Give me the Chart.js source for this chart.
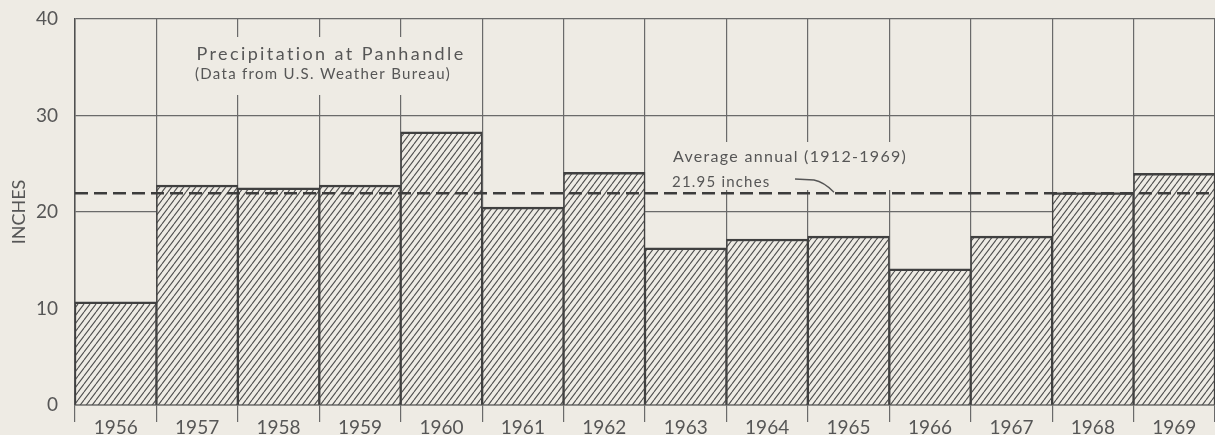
<!DOCTYPE html>
<html>
<head>
<meta charset="utf-8">
<title>Precipitation at Panhandle</title>
<script src="https://cdn.jsdelivr.net/npm/chart.js@4.4.0/dist/chart.umd.min.js"></script>
<style>
  html, body { margin: 0; padding: 0; background: #eeebe4; overflow: hidden; }
  #wrap { width: 1215px; height: 435px; }
</style>
</head>
<body>
<div id="wrap"><canvas id="precip-chart" width="1215" height="435"></canvas></div>
<script>
const years = ["1956", "1957", "1958", "1959", "1960", "1961", "1962",
               "1963", "1964", "1965", "1966", "1967", "1968", "1969"];
const precipInches = [10.7, 22.8, 22.5, 22.8, 28.3, 20.5, 24.1,
                      16.3, 17.2, 17.5, 14.1, 17.5, 22.0, 24.0];
const averageAnnual = 21.95;
const yTicks = [0, 10, 20, 30, 40];
const titleLines = ["Precipitation at Panhandle", "(Data from U.S. Weather Bureau)"];
const averageLines = ["Average annual (1912-1969)", "21.95 inches"];

const paper = "#eeebe4";
const ink = "#565656";
const gridInk = "#6a6a6a";
const fontFamily = "Lato, 'Open Sans', sans-serif";

const canvas = document.getElementById("precip-chart");
const ctx = canvas.getContext("2d");

// diagonal hatching used for the bars
function makeHatch() {
  const w = 6, h = 8;
  const tile = document.createElement("canvas");
  tile.width = w;
  tile.height = h;
  const g = tile.getContext("2d");
  g.fillStyle = paper;
  g.fillRect(0, 0, w, h);
  g.strokeStyle = "#505050";
  g.lineWidth = 1.1;
  g.beginPath();
  g.moveTo(0, h); g.lineTo(w, 0);
  g.moveTo(-w, h); g.lineTo(0, 0);
  g.moveTo(w, h); g.lineTo(2 * w, 0);
  g.stroke();
  return ctx.createPattern(tile, "repeat");
}

function drawText(c, text, x, y, size, spacing, align) {
  c.font = size + "px " + fontFamily;
  c.letterSpacing = spacing + "px";
  c.textAlign = align;
  c.textBaseline = "middle";
  c.fillText(text, x, y);
}

const overlayPlugin = {
  id: "overlay",
  afterDraw(chart) {
    const { ctx: c, chartArea, scales } = chart;
    const yAvg = scales.y.getPixelForValue(averageAnnual);
    c.save();

    // lettering sits on blank panels that break the grid lines
    c.fillStyle = paper;
    c.fillRect(182, 37, 290, 58);
    c.fillRect(660, 142, 255, 48);

    // average line
    c.strokeStyle = "#3c3c3c";
    c.lineWidth = 2.5;
    c.setLineDash([13, 6]);
    c.beginPath();
    c.moveTo(chartArea.left, yAvg);
    c.lineTo(chartArea.right, yAvg);
    c.stroke();
    c.setLineDash([]);

    // leader from the label down to the line
    c.lineWidth = 1.3;
    c.strokeStyle = ink;
    c.beginPath();
    c.moveTo(795, 179);
    c.lineTo(814, 180);
    c.quadraticCurveTo(824, 182, 834, yAvg - 1);
    c.stroke();

    c.fillStyle = ink;
    drawText(c, titleLines[0], 331, 54, 18, 2.4, "center");
    drawText(c, titleLines[1], 323, 74, 15, 1.3, "center");
    drawText(c, averageLines[0], 673, 157, 16, 1.3, "left");
    drawText(c, averageLines[1], 672, 182, 15, 1.2, "left");
    c.restore();
  }
};

new Chart(ctx, {
  type: "bar",
  data: {
    labels: years,
    datasets: [{
      data: precipInches,
      backgroundColor: makeHatch(),
      borderColor: "#404040",
      borderWidth: { top: 2.5, left: 1.5, right: 1.5, bottom: 0 },
      borderSkipped: "start",
      barPercentage: 1,
      categoryPercentage: 1
    }]
  },
  options: {
    responsive: false,
    animation: false,
    layout: { padding: { top: 19, right: 0, bottom: 0, left: 0 } },
    plugins: {
      legend: { display: false },
      tooltip: { enabled: false }
    },
    scales: {
      x: {
        z: 1,
        offset: true,
        afterFit: (scale) => { scale.height = 30; },
        grid: {
          offset: true,
          color: gridInk,
          lineWidth: 1.2,
          drawTicks: true,
          tickLength: 17,
          tickColor: gridInk
        },
        border: { display: true, color: "#505050", width: 1.5 },
        ticks: {
          color: ink,
          padding: -6,
          maxRotation: 0,
          font: { family: fontFamily, size: 19 }
        }
      },
      y: {
        z: 1,
        min: 0,
        max: 40,
        afterFit: (scale) => {
          scale.width = 75;
          scale.paddingTop = 0;
          scale.paddingBottom = 0;
        },
        afterBuildTicks: (scale) => { scale.ticks = yTicks.map(v => ({ value: v })); },
        grid: { color: gridInk, lineWidth: 1.2, drawTicks: false },
        border: { display: true, color: "#505050", width: 1.5 },
        ticks: {
          color: ink,
          padding: 17,
          font: { family: fontFamily, size: 19 }
        },
        title: {
          display: true,
          text: "INCHES",
          color: ink,
          padding: { top: 8, bottom: 0 },
          font: { family: fontFamily, size: 18 }
        }
      }
    }
  },
  plugins: [overlayPlugin]
});
</script>
</body>
</html>
